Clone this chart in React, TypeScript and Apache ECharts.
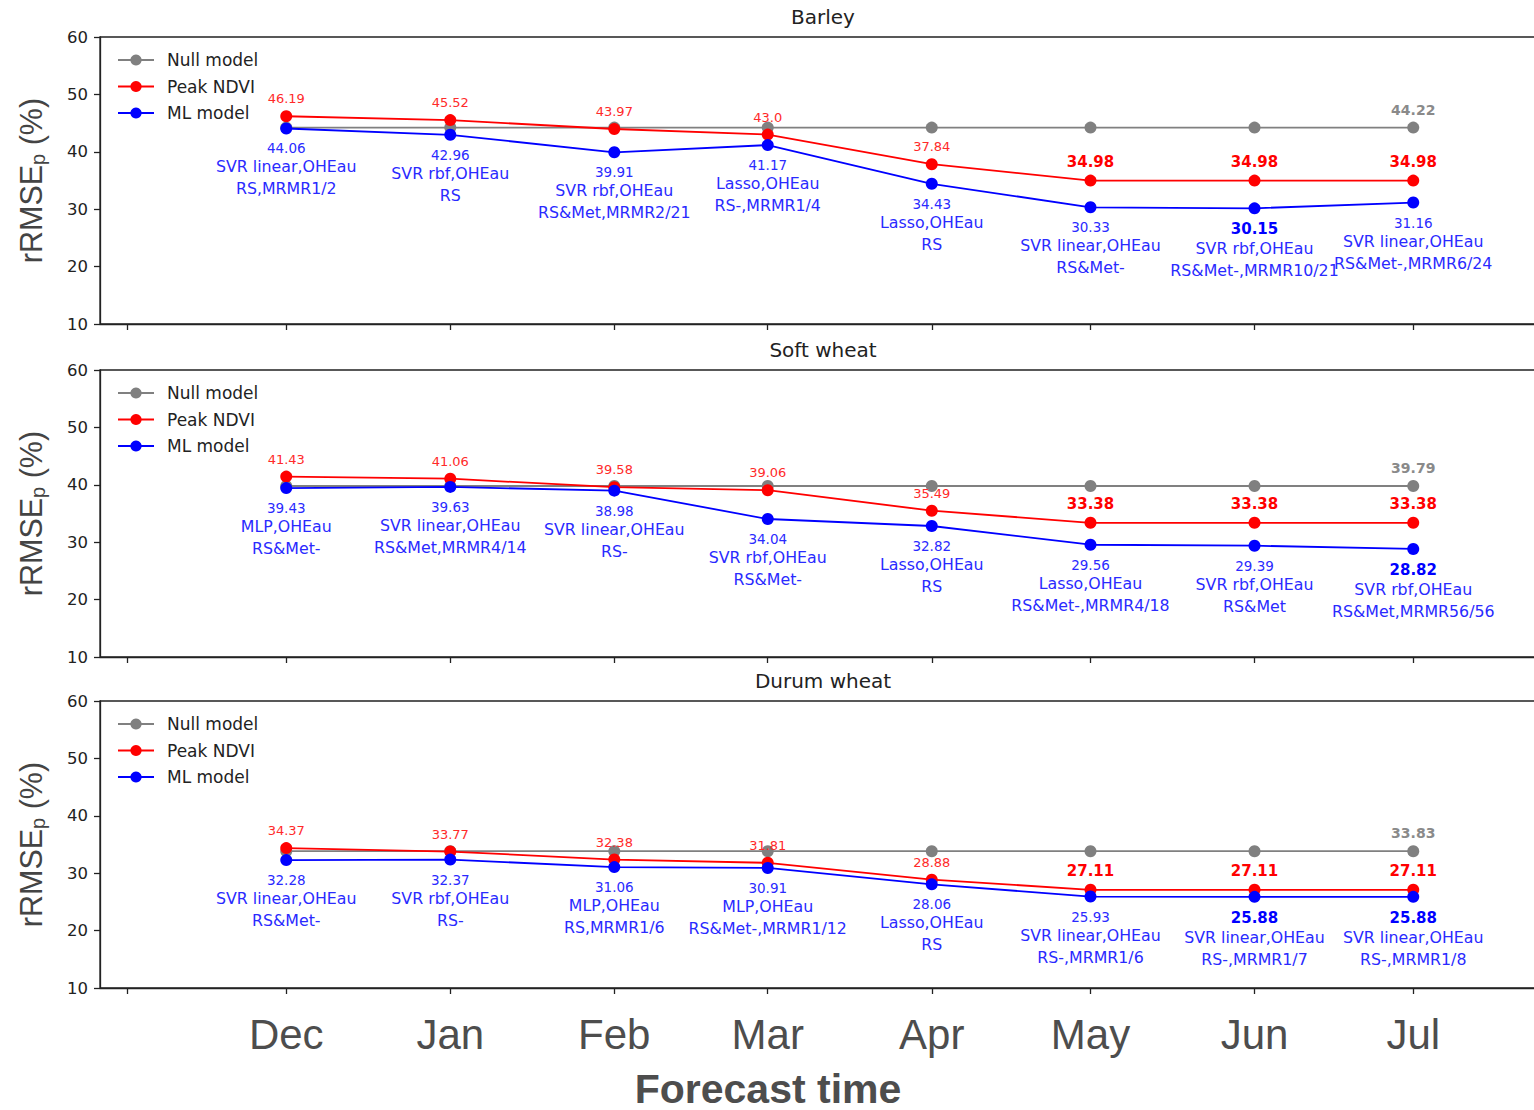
import React, { useEffect, useRef } from "react";
import * as echarts from "echarts";

// ---------- data ----------
const months = ["Dec", "Jan", "Feb", "Mar", "Apr", "May", "Jun", "Jul"];
const forecastDay = [30, 61, 92, 121, 152, 182, 213, 243]; // days since 1 Nov (leap year)
const tickDays = [0, 30, 61, 92, 121, 152, 182, 213, 243];
const crops = ["Barley", "Soft wheat", "Durum wheat"];
const seriesNames = ["Null model", "Peak NDVI", "ML model"];

const barleyNull = [44.22, 44.22, 44.22, 44.22, 44.22, 44.22, 44.22, 44.22];
const barleyPeak = [46.19, 45.52, 43.97, 43.0, 37.84, 34.98, 34.98, 34.98];
const barleyPeakBest = [false, false, false, false, false, true, true, true];
const barleyML = [44.06, 42.96, 39.91, 41.17, 34.43, 30.33, 30.15, 31.16];
const barleyMLBest = [false, false, false, false, false, false, true, false];
const barleyModel = ["SVR linear,OHEau", "SVR rbf,OHEau", "SVR rbf,OHEau", "Lasso,OHEau", "Lasso,OHEau", "SVR linear,OHEau", "SVR rbf,OHEau", "SVR linear,OHEau"];
const barleyFeatures = ["RS,MRMR1/2", "RS", "RS&Met,MRMR2/21", "RS-,MRMR1/4", "RS", "RS&Met-", "RS&Met-,MRMR10/21", "RS&Met-,MRMR6/24"];

const softNull = [39.79, 39.79, 39.79, 39.79, 39.79, 39.79, 39.79, 39.79];
const softPeak = [41.43, 41.06, 39.58, 39.06, 35.49, 33.38, 33.38, 33.38];
const softPeakBest = [false, false, false, false, false, true, true, true];
const softML = [39.43, 39.63, 38.98, 34.04, 32.82, 29.56, 29.39, 28.82];
const softMLBest = [false, false, false, false, false, false, false, true];
const softModel = ["MLP,OHEau", "SVR linear,OHEau", "SVR linear,OHEau", "SVR rbf,OHEau", "Lasso,OHEau", "Lasso,OHEau", "SVR rbf,OHEau", "SVR rbf,OHEau"];
const softFeatures = ["RS&Met-", "RS&Met,MRMR4/14", "RS-", "RS&Met-", "RS", "RS&Met-,MRMR4/18", "RS&Met", "RS&Met,MRMR56/56"];

const durumNull = [33.83, 33.83, 33.83, 33.83, 33.83, 33.83, 33.83, 33.83];
const durumPeak = [34.37, 33.77, 32.38, 31.81, 28.88, 27.11, 27.11, 27.11];
const durumPeakBest = [false, false, false, false, false, true, true, true];
const durumML = [32.28, 32.37, 31.06, 30.91, 28.06, 25.93, 25.88, 25.88];
const durumMLBest = [false, false, false, false, false, false, true, true];
const durumModel = ["SVR linear,OHEau", "SVR rbf,OHEau", "MLP,OHEau", "MLP,OHEau", "Lasso,OHEau", "SVR linear,OHEau", "SVR linear,OHEau", "SVR linear,OHEau"];
const durumFeatures = ["RS&Met-", "RS-", "RS,MRMR1/6", "RS&Met-,MRMR1/12", "RS", "RS-,MRMR1/6", "RS-,MRMR1/7", "RS-,MRMR1/8"];

const panels = [
  { nul: barleyNull, peak: barleyPeak, peakBest: barleyPeakBest, ml: barleyML, mlBest: barleyMLBest, model: barleyModel, feat: barleyFeatures },
  { nul: softNull, peak: softPeak, peakBest: softPeakBest, ml: softML, mlBest: softMLBest, model: softModel, feat: softFeatures },
  { nul: durumNull, peak: durumPeak, peakBest: durumPeakBest, ml: durumML, mlBest: durumMLBest, model: durumModel, feat: durumFeatures },
];

// ---------- layout / style ----------
const W = 1545; // wider than the 1534 viewport so the right frame edge falls outside, as in the reference
const H = 1110;
const gridTops = [37, 370, 701];
const gridH = 287;
const DV = "DejaVu Sans";
const AR = "Liberation Sans, Arial";
const GRAY = "#808080";
const RED = "#ff0000";
const BLUE = "#0000ff";

const fmt = (v: number) => (Number.isInteger(v) ? v.toFixed(1) : String(v));

export default function App() {
  const ref = useRef<HTMLDivElement>(null);

  useEffect(() => {
    if (!ref.current) return;
    const chart = echarts.init(ref.current, undefined, { renderer: "svg" });

    const grid: any[] = [];
    const xAxis: any[] = [];
    const yAxis: any[] = [];
    const title: any[] = [];
    const legend: any[] = [];
    const series: any[] = [];

    panels.forEach((p, k) => {
      grid.push({
        left: 100,
        right: 0,
        top: gridTops[k],
        height: gridH,
        show: true,
        borderColor: "#222",
        borderWidth: 1.3,
        backgroundColor: "transparent",
        containLabel: false,
      });
      xAxis.push({
        type: "value",
        gridIndex: k,
        min: -5.2,
        max: 267.9,
        splitLine: { show: false },
        axisLine: { show: true, onZero: false, lineStyle: { color: "#222", width: 1.3 } },
        axisTick: { show: true, length: 6, customValues: tickDays, lineStyle: { color: "#222", width: 1.3 } },
        axisLabel: {
          show: k === 2,
          customValues: forecastDay,
          formatter: (v: number) => months[forecastDay.indexOf(v)] ?? "",
          fontSize: 42,
          fontFamily: AR,
          color: "#4d4d4d",
          margin: 24,
          lineHeight: 44,
        },
      });
      yAxis.push({
        type: "value",
        gridIndex: k,
        min: 10,
        max: 60,
        interval: 10,
        splitLine: { show: false },
        axisLine: { show: true, onZero: false, lineStyle: { color: "#222", width: 1.3 } },
        axisTick: { show: true, length: 6, lineStyle: { color: "#222", width: 1.3 } },
        axisLabel: { fontSize: 16.5, fontFamily: DV, color: "#222", margin: 12 },
        name: "{n|rRMSE}{s|p}{n| (%)}",
        nameLocation: "middle",
        nameRotate: 90,
        nameGap: 52,
        nameTextStyle: {
          rich: {
            n: { fontSize: 30.5, fontFamily: AR, color: "#444", lineHeight: 34, verticalAlign: "middle" },
            s: { fontSize: 20, fontFamily: AR, color: "#444", lineHeight: 19, verticalAlign: "bottom" },
          },
        },
      });
      title.push({
        text: crops[k],
        left: 823,
        top: gridTops[k] - 30,
        textAlign: "center",
        padding: 0,
        textStyle: { fontSize: 20, fontWeight: "normal", fontFamily: DV, color: "#222" },
      });
      legend.push({
        data: seriesNames,
        orient: "vertical",
        left: 117,
        top: gridTops[k] + 13,
        padding: 0,
        itemWidth: 36,
        itemHeight: 14,
        itemGap: 6.5,
        selectedMode: false,
        textStyle: { fontSize: 17, fontFamily: DV, color: "#222", lineHeight: 20, padding: [0, 0, 0, 8] },
      });

      const last = p.nul.length - 1;
      series.push({
        name: seriesNames[0],
        type: "line",
        xAxisIndex: k,
        yAxisIndex: k,
        symbol: "circle",
        symbolSize: 12,
        lineStyle: { color: GRAY, width: 1.8 },
        itemStyle: { color: GRAY },
        label: {
          show: false,
          position: "top",
          distance: 5,
          fontSize: 14,
          fontWeight: "bold",
          fontFamily: DV,
          color: "#8a8a8a",
          formatter: (q: any) => fmt(q.value[1]),
        },
        data: p.nul.map((v, i) => ({ value: [forecastDay[i], v], label: { show: i === last } })),
        z: 2,
      });
      series.push({
        name: seriesNames[1],
        type: "line",
        xAxisIndex: k,
        yAxisIndex: k,
        symbol: "circle",
        symbolSize: 12,
        lineStyle: { color: RED, width: 1.8 },
        itemStyle: { color: RED },
        label: {
          show: true,
          position: "top",
          distance: 5,
          fontFamily: DV,
          formatter: (q: any) => fmt(q.value[1]),
        },
        data: p.peak.map((v, i) => ({
          value: [forecastDay[i], v],
          label: p.peakBest[i]
            ? { fontSize: 15, fontWeight: "bold", color: RED }
            : { fontSize: 13, fontWeight: "normal", color: "#ff2a2a" },
        })),
        z: 3,
      });
      series.push({
        name: seriesNames[2],
        type: "line",
        xAxisIndex: k,
        yAxisIndex: k,
        symbol: "circle",
        symbolSize: 12,
        lineStyle: { color: BLUE, width: 1.8 },
        itemStyle: { color: BLUE },
        label: {
          show: true,
          position: "bottom",
          distance: 6.5,
          align: "center",
          formatter: (q: any) => {
            const i = q.dataIndex;
            const tag = p.mlBest[i] ? "vb" : "v";
            return `{${tag}|${fmt(q.value[1])}}\n{m|${p.model[i]}}\n{m|${p.feat[i]}}`;
          },
          rich: {
            v: { fontSize: 13.5, fontFamily: DV, color: "#2a2aff", lineHeight: 15, align: "center" },
            vb: { fontSize: 15, fontFamily: DV, fontWeight: "bold", color: BLUE, lineHeight: 17, align: "center" },
            m: { fontSize: 15.8, fontFamily: DV, color: "#2a2aff", lineHeight: 22, align: "center" },
          },
        },
        data: p.ml.map((v, i) => ({ value: [forecastDay[i], v] })),
        z: 4,
      });
    });

    chart.setOption({
      animation: false,
      backgroundColor: "#ffffff",
      grid,
      xAxis,
      yAxis,
      title,
      legend,
      series,
      graphic: [
        {
          type: "text",
          x: 768,
          y: 1109,
          style: {
            text: "Forecast time",
            fontSize: 41,
            fontWeight: "bold",
            fontFamily: AR,
            fill: "#4d4d4d",
            textAlign: "center",
            textVerticalAlign: "bottom",
            align: "center",
            verticalAlign: "bottom",
          },
        },
      ],
    });

    return () => chart.dispose();
  }, []);

  return (
    <div
      ref={ref}
      style={{ position: "fixed", left: 0, top: 0, width: W, height: H, background: "#fff" }}
    />
  );
}
